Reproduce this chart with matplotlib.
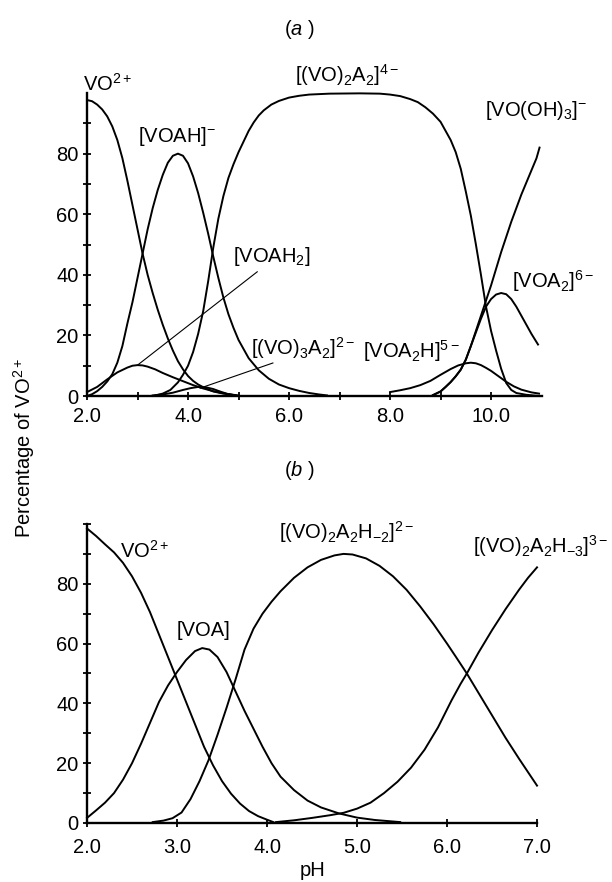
import numpy as np
import matplotlib
matplotlib.use('Agg')
from matplotlib import pyplot as plt

plt.rcParams['font.family'] = ['Liberation Sans', 'DejaVu Sans']
plt.rcParams['mathtext.fontset'] = 'custom'
plt.rcParams['mathtext.rm'] = 'Liberation Sans'
plt.rcParams['mathtext.it'] = 'Liberation Sans:italic'
plt.rcParams['mathtext.default'] = 'regular'

# (a) species distribution, pH 2 - 11
vo_ph = [2.0, 2.1, 2.2, 2.3, 2.4, 2.5, 2.6, 2.7, 2.8, 2.9, 3.0, 3.1, 3.2, 3.3, 3.4, 3.5,
         3.6, 3.7, 3.8, 3.9, 4.0, 4.1, 4.2, 4.35, 4.5, 4.7, 5.0]
vo_pct = [97.7, 97.3, 96.2, 94.6, 92.3, 89, 84.5, 78.5, 71, 63, 55, 47, 40, 34, 28.5, 23.5,
          19, 15, 11.5, 8.8, 6.6, 5, 3.8, 2.5, 1.5, 0.8, 0.2]

voah_ph = [2.0, 2.1, 2.2, 2.3, 2.4, 2.5, 2.6, 2.7, 2.8, 2.9, 3.0, 3.1, 3.2, 3.3, 3.4, 3.5,
           3.6, 3.7, 3.8, 3.9, 4.0, 4.1, 4.2, 4.3, 4.4, 4.5, 4.6, 4.7, 4.8, 4.9, 5.0,
           5.2, 5.4, 5.6, 5.8, 6.0, 6.2, 6.4, 6.6, 6.75]
voah_pct = [0, 0.6, 1.6, 3, 4.8, 7.2, 11, 16.5, 24, 31, 39, 47, 55, 62, 68, 73,
            77, 79.3, 80, 79.3, 76.8, 72.5, 67, 60.5, 53.5, 46, 39, 32.5, 27, 22.5, 18.5,
            12.5, 8.5, 5.7, 3.8, 2.6, 1.7, 1, 0.5, 0.2]

voah2_ph = [2.0, 2.2, 2.4, 2.6, 2.8, 2.9, 3.0, 3.1, 3.2, 3.35, 3.5, 3.7, 3.9, 4.1, 4.3,
            4.5, 4.7, 4.9]
voah2_pct = [1.3, 3, 5.5, 7.8, 9.4, 10, 10.2, 10.1, 9.7, 8.8, 7.6, 6.2, 4.9, 3.6, 2.5,
             1.6, 0.9, 0.3]

vo3a2_ph = [3.3, 3.5, 3.7, 3.9, 4.05, 4.2, 4.35, 4.5, 4.65, 4.8, 4.95]
vo3a2_pct = [0.2, 0.5, 1.1, 2, 2.6, 3, 2.9, 2.3, 1.4, 0.6, 0.2]

dimer_ph = [3.35, 3.5, 3.65, 3.8, 3.9, 4.0, 4.1, 4.2, 4.3, 4.4, 4.5, 4.6, 4.7, 4.8, 4.9,
            5.0, 5.1, 5.2, 5.3, 5.4, 5.5, 5.65, 5.8, 6.0, 6.2, 6.4, 6.8, 7.4, 7.8, 8.0,
            8.2, 8.4, 8.55, 8.7, 8.85, 9.0, 9.1, 9.2, 9.3, 9.4, 9.5, 9.6, 9.7, 9.8, 9.9,
            10.0, 10.1, 10.2, 10.3, 10.4, 10.5, 10.7, 10.95]
dimer_pct = [0.2, 0.8, 2, 4.5, 7, 10, 14.5, 20.5, 28, 38, 49, 58.5, 66, 72, 76.5,
             80.5, 84, 87.5, 90.3, 92.6, 94.3, 96.2, 97.4, 98.5, 99.1, 99.5, 99.8, 99.9, 99.8, 99.5,
             99, 98, 97, 95.3, 93.2, 90.5, 87.5, 84.5, 80.5, 75, 67.5, 59.5, 50, 40, 29.5,
             21.5, 15, 9, 4.3, 2, 1, 0.4, 0]

vooh_ph = [8.85, 9.0, 9.1, 9.2, 9.3, 9.4, 9.5, 9.6, 9.7, 9.8, 9.9, 10.0, 10.1, 10.2, 10.3,
           10.4, 10.5, 10.6, 10.7, 10.8, 10.9, 10.96]
vooh_pct = [0.3, 1.5, 3, 4.6, 6.5, 8.7, 12, 16.5, 21.5, 26.5, 31.5, 36.5, 42, 47.5, 52.5,
            57.5, 62, 66.5, 70.5, 74.5, 78.5, 82]

voa2_ph = [8.85, 9.0, 9.1, 9.2, 9.3, 9.4, 9.5, 9.6, 9.7, 9.8, 9.9, 10.0, 10.1, 10.2, 10.3,
           10.4, 10.5, 10.6, 10.7, 10.8, 10.93]
voa2_pct = [0.3, 1.5, 3, 4.6, 6.5, 8.7, 12, 16.5, 21, 25.5, 29.5, 32, 33.5, 34, 33.6,
            32, 29.5, 26.5, 23.5, 20.5, 17]

voa2h_ph = [8.0, 8.2, 8.4, 8.6, 8.8, 9.0, 9.2, 9.35, 9.5, 9.6, 9.7, 9.8, 9.9, 10.0, 10.1,
            10.2, 10.3, 10.45, 10.6, 10.8, 10.95]
voa2h_pct = [1.3, 1.9, 2.6, 3.6, 5, 7, 8.9, 10.1, 10.8, 11, 10.8, 10.2, 9.3, 8.3, 7.1,
             5.9, 4.7, 3.2, 2.1, 1.2, 0.8]

# (b) species distribution, pH 2 - 7
b_vo_ph = [2.0, 2.1, 2.2, 2.3, 2.4, 2.5, 2.6, 2.7, 2.8, 2.9, 3.0, 3.1, 3.2, 3.3, 3.4, 3.5,
           3.6, 3.7, 3.8, 3.9, 4.0, 4.07]
b_vo_pct = [98.5, 96, 93.2, 90.5, 87, 82.5, 77, 70.5, 63, 55.5, 48, 40.5, 33, 25.5, 19.3, 14,
            9.8, 6.5, 4, 2.3, 1.1, 0.3]

b_voa_ph = [2.0, 2.1, 2.2, 2.3, 2.4, 2.5, 2.6, 2.7, 2.8, 2.9, 3.0, 3.1, 3.2, 3.28, 3.36,
            3.45, 3.55, 3.65, 3.75, 3.85, 3.95, 4.05, 4.15, 4.3, 4.45, 4.6, 4.8, 5.0, 5.2, 5.48]
b_voa_pct = [1.7, 4.2, 6.8, 10, 14.5, 20, 26.5, 33.5, 40.5, 46, 50.5, 54.5, 57.5, 58.5, 58,
             55.5, 50.5, 44, 37.5, 31.5, 25.5, 20, 15.5, 11, 7.5, 5.2, 3.2, 1.8, 1, 0.3]

b_h2_ph = [2.73, 2.85, 2.95, 3.05, 3.15, 3.25, 3.35, 3.45, 3.55, 3.65, 3.75, 3.85, 3.95, 4.05,
           4.15, 4.3, 4.45, 4.6, 4.75, 4.85, 4.95, 5.1, 5.25, 5.4, 5.55, 5.7, 5.85, 6.0,
           6.1, 6.22, 6.35, 6.5, 6.65, 6.8, 6.9, 7.0]
b_h2_pct = [0.3, 0.8, 1.6, 3.5, 8, 14, 21, 29.5, 38.5, 48, 58, 65, 70, 74,
            77.5, 82, 85.5, 88, 89.5, 90, 89.8, 88.5, 86, 82.5, 78, 72.5, 66.5, 60,
            55.5, 50, 43.5, 36, 28.5, 21.5, 17, 12.5]

b_h3_ph = [4.1, 4.3, 4.5, 4.7, 4.85, 5.0, 5.15, 5.3, 5.45, 5.6, 5.75, 5.9, 6.05, 6.15, 6.22,
           6.35, 6.5, 6.65, 6.8, 6.9, 7.0]
b_h3_pct = [0.3, 0.9, 1.7, 2.6, 3.4, 4.8, 6.8, 10, 13.8, 18.5, 24.5, 32, 41, 46.5, 50,
            57, 64.5, 71.5, 78, 82, 85.5]

fs = 14.5
lw = 1.4

fig = plt.figure(figsize=(6.12, 8.82), dpi=100)
ax1 = fig.add_axes([0.1422, 0.551, 0.7427, 0.3435])
ax2 = fig.add_axes([0.1422, 0.0669, 0.7353, 0.339])

for ph, pct in [(vo_ph, vo_pct), (voah_ph, voah_pct), (voah2_ph, voah2_pct),
                (vo3a2_ph, vo3a2_pct), (dimer_ph, dimer_pct), (vooh_ph, vooh_pct),
                (voa2_ph, voa2_pct), (voa2h_ph, voa2h_pct)]:
    ax1.plot(ph, pct, color='black', lw=lw, clip_on=False, solid_joinstyle='round')

for ph, pct in [(b_vo_ph, b_vo_pct), (b_voa_ph, b_voa_pct),
                (b_h2_ph, b_h2_pct), (b_h3_ph, b_h3_pct)]:
    ax2.plot(ph, pct, color='black', lw=lw, clip_on=False, solid_joinstyle='round')

# leader lines in (a)
ax1.plot([5.37, 3.0], [41, 10.2], color='black', lw=0.8, clip_on=False)
ax1.plot([5.68, 4.24], [10.9, 2.6], color='black', lw=0.8, clip_on=False)

ax1.set_xlim(2, 11)
ax1.set_ylim(0, 100)
ax1.set_xticks(np.arange(2, 11, 1))
ax1.set_xticklabels(['2.0', '', '4.0', '', '6.0', '', '8.0', '', '10.0'])
ax1.set_yticks(np.arange(0, 100, 10))
ax1.set_yticklabels(['0', '', '20', '', '40', '', '60', '', '80', ''])

ax2.set_xlim(2, 7)
ax2.set_ylim(0, 100)
ax2.set_xticks(np.arange(2, 8, 1))
ax2.set_xticklabels(['2.0', '3.0', '4.0', '5.0', '6.0', '7.0'])
ax2.set_yticks(np.arange(0, 101, 10))
ax2.set_yticklabels(['0', '', '20', '', '40', '', '60', '', '80', '', ''])

for ax in (ax1, ax2):
    ax.spines['top'].set_visible(False)
    ax.spines['right'].set_visible(False)
    ax.spines['left'].set_linewidth(1.7)
    ax.spines['bottom'].set_linewidth(1.7)
    ax.tick_params(direction='inout', length=6, width=1.3, labelsize=fs)
    ax.tick_params(axis='y', pad=3)
ax1.tick_params(axis='x', pad=5)
ax2.tick_params(axis='x', pad=8)

# labels in (a)
ax1.text(2.4, 103, r'VO$^{2+}$', fontsize=fs, ha='center', va='center')
ax1.text(3.78, 85.5, r'[VOAH]$^{-}$', fontsize=fs, ha='center', va='center')
ax1.text(7.15, 106, r'[(VO)$_2$A$_2$]$^{4-}$', fontsize=fs, ha='center', va='center')
ax1.text(10.9, 94.4, r'[VO(OH)$_3$]$^{-}$', fontsize=fs, ha='center', va='center')
ax1.text(5.66, 46, r'[VOAH$_2$]', fontsize=fs, ha='center', va='center')
ax1.text(6.28, 15.8, r'[(VO)$_3$A$_2$]$^{2-}$', fontsize=fs, ha='center', va='center')
ax1.text(8.42, 14.9, r'[VOA$_2$H]$^{5-}$', fontsize=fs, ha='center', va='center')
ax1.text(11.23, 38, r'[VOA$_2$]$^{6-}$', fontsize=fs, ha='center', va='center')

# labels in (b)
ax2.text(2.64, 91, r'VO$^{2+}$', fontsize=fs, ha='center', va='center')
ax2.text(3.29, 64.5, '[VOA]', fontsize=fs, ha='center', va='center')
ax2.text(4.89, 97.3, r'[(VO)$_2$A$_2$H$_{-2}$]$^{2-}$', fontsize=fs, ha='center', va='center')
ax2.text(7.04, 92.6, r'[(VO)$_2$A$_2$H$_{-3}$]$^{3-}$', fontsize=fs, ha='center', va='center')

fig.text(0.49, 0.966, r'($\mathit{a}$ )', fontsize=fs, ha='center', va='center')
fig.text(0.49, 0.466, r'($\mathit{b}$ )', fontsize=fs, ha='center', va='center')
fig.text(0.04, 0.492, r'Percentage of VO$^{2+}$', fontsize=fs, rotation=90,
         ha='center', va='center')
fig.text(0.51, 0.0136, 'pH', fontsize=fs, ha='center', va='center')

plt.savefig('out.png', dpi=100)
